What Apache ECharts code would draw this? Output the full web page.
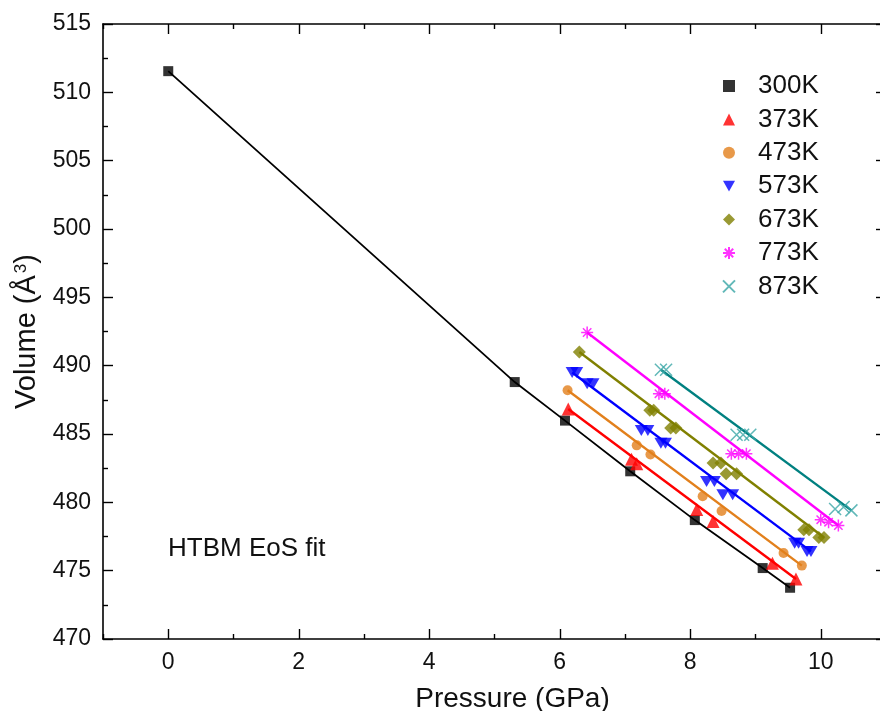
<!DOCTYPE html>
<html>
<head>
<meta charset="utf-8">
<title>Volume vs Pressure</title>
<script src="https://cdn.jsdelivr.net/npm/echarts@6/dist/echarts.min.js"></script>
<style>
  html, body { margin: 0; padding: 0; background: #ffffff; }
  #chart { width: 880px; height: 711px; }
</style>
</head>
<body>
<div id="chart"></div>
<script>
// Measured unit-cell volume (Å^3) against pressure (GPa) for each temperature
var temperatures = ['300K', '373K', '473K', '573K', '673K', '773K', '873K'];

var p300 = [0.00, 5.31, 6.08, 7.08, 8.07, 9.11, 9.53];
var v300 = [511.55, 488.80, 485.98, 482.27, 478.70, 475.19, 473.75];

var p373 = [6.13, 7.10, 7.18, 8.10, 8.35, 9.26, 9.62];
var v373 = [486.83, 483.16, 482.83, 479.48, 478.60, 475.55, 474.39];

var p473 = [6.12, 7.18, 7.39, 8.19, 8.48, 9.43, 9.71];
var v473 = [488.20, 484.17, 483.50, 480.45, 479.37, 476.29, 475.37];

var p573 = [6.19, 6.26, 6.42, 6.51, 7.25, 7.35, 7.55, 7.62, 8.25, 8.37, 8.50, 8.65, 9.60, 9.66, 9.79, 9.85];
var v573 = [489.50, 489.50, 488.68, 488.68, 485.26, 485.26, 484.33, 484.33, 481.53, 481.53, 480.56, 480.56, 477.00, 477.00, 476.41, 476.41];

var p673 = [6.30, 7.38, 7.44, 7.70, 7.78, 8.35, 8.47, 8.55, 8.71, 9.74, 9.82, 9.97, 10.05];
var v673 = [491.00, 486.73, 486.73, 485.44, 485.44, 482.88, 482.88, 482.10, 482.10, 478.00, 478.00, 477.43, 477.43];

var p773 = [6.42, 7.52, 7.61, 8.63, 8.74, 8.86, 10.00, 10.12, 10.27];
var v773 = [492.43, 487.95, 487.95, 483.56, 483.56, 483.56, 478.73, 478.55, 478.30];

var p873 = [7.55, 7.63, 8.71, 8.81, 8.92, 10.22, 10.35, 10.47];
var v873 = [489.70, 489.70, 484.95, 484.95, 484.95, 479.51, 479.66, 479.41];

// Axis ranges and tick positions
var xMin = -1, xMax = 11;
var xMajorTicks = [0, 2, 4, 6, 8, 10];
var xMinorTicks = [-1, 1, 3, 5, 7, 9, 11];
var yMin = 470, yMax = 515, yStep = 5;

var pressures = [p300, p373, p473, p573, p673, p773, p873];
var volumes = [v300, v373, v473, v573, v673, v773, v873];

var colors = ['#000000', '#ff0000', '#e2801c', '#0000ff', '#808000', '#ff00ff', '#008080'];
var symbolColors = ['#000000', '#ff0000', '#e2801c', '#0000ff', '#808000', '#ff00ff', '#3aa6a6'];

var downTriangle = 'path://M0,0L10,0L5,9Z';
var asterisk = 'path://M5,0L5,10M0,5L10,5M1.5,1.5L8.5,8.5M8.5,1.5L1.5,8.5';
var cross = 'path://M0,0L10,10M10,0L0,10';

var symbols = ['rect', 'triangle', 'circle', downTriangle, 'diamond', asterisk, cross];
var symbolSizes = [10, 13, 10, [13, 11], 13, 12, 12];
var strokeOnly = [false, false, false, false, false, true, true];

function pairs(xs, ys) {
  return xs.map(function (x, i) { return [x, ys[i]]; });
}

var series = [];

// Fit curves: the 300K curve runs through every point, the heated runs span their data
temperatures.forEach(function (t, k) {
  var pts = pairs(pressures[k], volumes[k]);
  var lineData = k === 0 ? pts : [pts[0], pts[pts.length - 1]];
  series.push({
    name: t + ' fit',
    type: 'line',
    data: lineData,
    showSymbol: false,
    symbol: 'none',
    silent: true,
    lineStyle: { color: colors[k], width: k === 0 ? 1.8 : 2.4 },
    z: 1
  });
});

// Measured points
temperatures.forEach(function (t, k) {
  var itemStyle = strokeOnly[k]
    ? { color: 'rgba(0,0,0,0)', borderColor: symbolColors[k], borderWidth: 1.5 }
    : { color: symbolColors[k] };
  series.push({
    name: t,
    type: 'scatter',
    data: pairs(pressures[k], volumes[k]),
    symbol: symbols[k],
    symbolSize: symbolSizes[k],
    itemStyle: itemStyle,
    z: 3
  });
});

var fontFamily = '"Liberation Sans", Arial, Helvetica, sans-serif';

var axisLineStyle = { color: '#000', width: 1.6 };
var tickStyle = { color: '#000', width: 1.4 };

function xAxisPair(position, withLabels) {
  var major = {
    type: 'value',
    position: position,
    min: xMin, max: xMax, interval: 1,
    axisLine: { show: true, onZero: false, lineStyle: axisLineStyle },
    axisTick: { show: true, inside: true, length: 10, lineStyle: tickStyle, customValues: xMajorTicks },
    splitLine: { show: false },
    axisLabel: withLabels
      ? { show: true, fontSize: 23, color: '#111', margin: 12, fontFamily: fontFamily, customValues: xMajorTicks }
      : { show: false }
  };
  if (withLabels) {
    major.name = 'Pressure (GPa)';
    major.nameLocation = 'middle';
    major.nameGap = 46;
    major.nameTextStyle = { fontSize: 28, color: '#111', fontFamily: fontFamily, padding: [0, 0, 0, 36] };
  }
  var minor = {
    type: 'value',
    position: position,
    min: xMin, max: xMax, interval: 1,
    axisLine: { show: false },
    axisTick: { show: true, inside: true, length: 5, lineStyle: tickStyle, customValues: xMinorTicks },
    splitLine: { show: false },
    axisLabel: { show: false }
  };
  return [major, minor];
}

function yAxisSide(position, withLabels) {
  var axis = {
    type: 'value',
    position: position,
    min: yMin, max: yMax, interval: yStep,
    axisLine: { show: true, onZero: false, lineStyle: axisLineStyle },
    axisTick: { show: true, inside: true, length: 10, lineStyle: tickStyle },
    minorTick: { show: true, splitNumber: 2, length: 5, lineStyle: tickStyle },
    splitLine: { show: false },
    axisLabel: withLabels
      ? { fontSize: 23, color: '#111', margin: 12, fontFamily: fontFamily }
      : { show: false }
  };
  if (withLabels) {
    axis.name = 'Volume (Å{sup|3})';
    axis.nameLocation = 'middle';
    axis.nameRotate = 90;
    axis.nameGap = 60;
    axis.nameTextStyle = {
      fontSize: 29, color: '#111', fontFamily: fontFamily,
      rich: { sup: { fontSize: 17, verticalAlign: 'top', color: '#111', fontFamily: fontFamily, padding: [0, 0, 0, 2] } }
    };
  }
  return axis;
}

var option = {
  backgroundColor: '#ffffff',
  animation: false,
  textStyle: { fontFamily: fontFamily },
  grid: {
    left: 103, top: 24, right: -6, bottom: 72,
    containLabel: false,
    outerBoundsMode: 'none'
  },
  legend: {
    orient: 'vertical',
    left: 722, top: 73,
    padding: 0,
    itemWidth: 12, itemHeight: 12,
    itemGap: 7.4,
    data: temperatures,
    textStyle: {
      fontSize: 26, lineHeight: 26, color: '#111',
      fontFamily: fontFamily,
      padding: [0, 0, 0, 18]
    }
  },
  xAxis: xAxisPair('bottom', true).concat(xAxisPair('top', false)),
  yAxis: [yAxisSide('left', true), yAxisSide('right', false)],
  graphic: [{
    type: 'text',
    left: 168,
    top: 536,
    style: { text: 'HTBM EoS fit', fontSize: 26, fill: '#111', fontFamily: fontFamily }
  }],
  series: series
};

var chart = echarts.init(document.getElementById('chart'), null, { renderer: 'canvas' });
chart.setOption(option);
</script>
</body>
</html>
